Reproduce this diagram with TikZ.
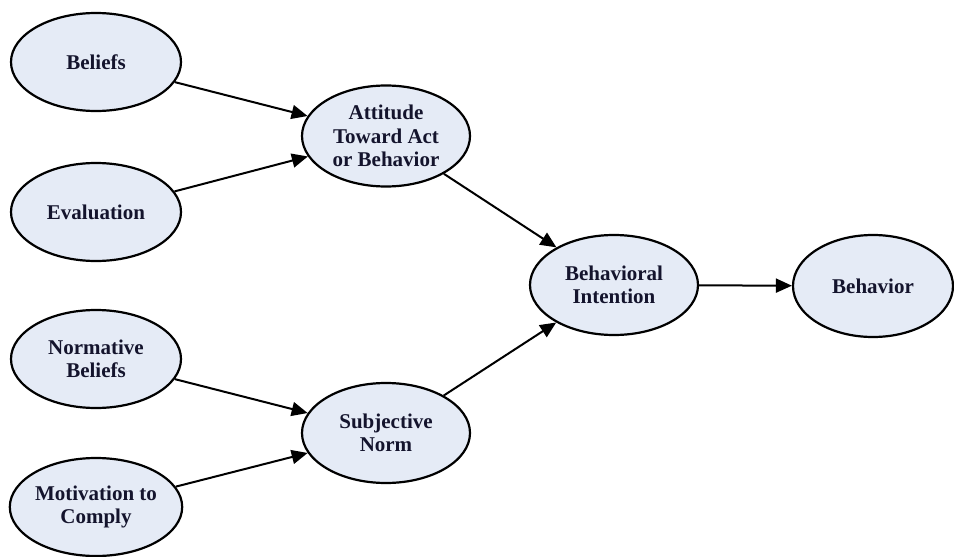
\documentclass[tikz,border=0pt]{standalone}
\usepackage{fontspec}
\setmainfont{Liberation Serif}
\usetikzlibrary{shapes.geometric,arrows.meta}
\definecolor{ellfill}{RGB}{229,235,246}
\definecolor{txt}{RGB}{20,20,45}
\tikzset{
  oval/.style={ellipse, draw=black, line width=2.2pt, fill=ellfill, inner sep=0pt,
    minimum width=168pt, minimum height=100pt, align=center, text=txt,
    font=\bfseries\fontsize{21}{23.5}\selectfont},
  conn/.style={line width=2pt, -{Triangle[length=16pt,width=14pt]}}
}
\begin{document}
\begin{tikzpicture}[x=1pt,y=-1pt]
\useasboundingbox (0,0) rectangle (954,557);
\node[oval, minimum width=170pt, minimum height=98pt] (bel) at (96,62) {Beliefs};
\node[oval, minimum width=170pt, minimum height=98pt] (eva) at (96,212) {Evaluation};
\node[oval, minimum width=170pt, minimum height=98pt] (nb) at (96,359) {Normative\\Beliefs};
\node[oval, minimum width=170pt, minimum height=98pt] (mot) at (96,507) {Motivation to\\Comply};
\node[oval, minimum height=101pt] (att) at (386,136) {Attitude\\Toward Act\\or Behavior};
\node[oval] (sn) at (386,433) {Subjective\\Norm};
\node[oval] (bi) at (614,285) {Behavioral\\Intention};
\node[oval, minimum width=160pt, minimum height=102pt] (beh) at (873,286) {Behavior};
\draw[conn] (bel) -- (att);
\draw[conn] (eva) -- (att);
\draw[conn] (nb) -- (sn);
\draw[conn] (mot) -- (sn);
\draw[conn] (att) -- (bi);
\draw[conn] (sn) -- (bi);
\draw[conn] (bi) -- (beh);
\end{tikzpicture}
\end{document}
